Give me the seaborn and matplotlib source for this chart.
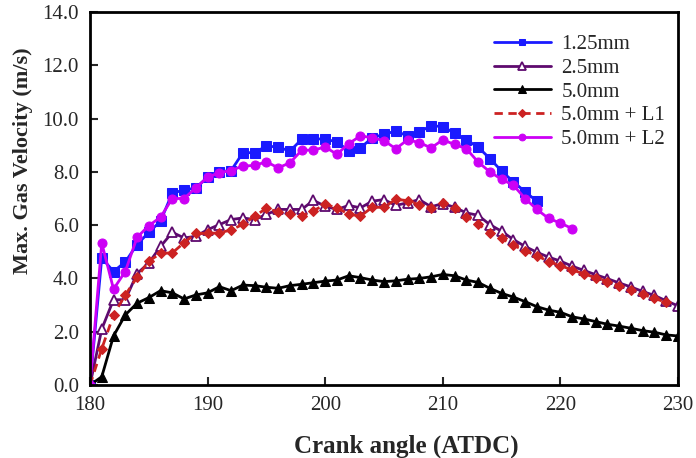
import numpy as np
import pandas as pd
import matplotlib
matplotlib.use("Agg")
import matplotlib.pyplot as plt
import seaborn as sns

# ---- data ----
angle_125 = list(range(180, 219))
v_125 = [0.0, 4.77, 4.26, 4.62, 5.27, 5.73, 6.15, 7.21, 7.31, 7.40, 7.80, 8.00, 8.05,
         8.72, 8.72, 8.97, 8.93, 8.78, 9.22, 9.25, 9.22, 9.13, 8.78, 8.90, 9.28, 9.41,
         9.53, 9.35, 9.50, 9.73, 9.70, 9.45, 9.20, 8.93, 8.50, 8.03, 7.63, 7.25, 6.90]

angle_25 = list(range(180, 231))
v_25 = [0.0, 2.10, 3.20, 3.20, 4.18, 4.58, 5.20, 5.73, 5.52, 5.58, 5.83, 6.02, 6.21,
        6.27, 6.21, 6.40, 6.59, 6.59, 6.59, 6.93, 6.71, 6.59, 6.74, 6.65, 6.90, 6.96,
        6.74, 6.84, 6.96, 6.69, 6.81, 6.67, 6.46, 6.37, 6.02, 5.77, 5.46, 5.20, 4.98,
        4.80, 4.65, 4.46, 4.30, 4.14, 3.99, 3.83, 3.68, 3.51, 3.36, 3.16, 2.97]

angle_50 = list(range(180, 231))
v_50 = [0.0, 0.31, 1.84, 2.63, 3.07, 3.28, 3.54, 3.46, 3.23, 3.38, 3.46, 3.69, 3.54,
        3.75, 3.73, 3.67, 3.63, 3.73, 3.78, 3.84, 3.90, 3.94, 4.10, 4.03, 3.94, 3.88,
        3.91, 3.97, 4.00, 4.06, 4.15, 4.10, 3.94, 3.85, 3.63, 3.44, 3.30, 3.13, 2.94,
        2.81, 2.73, 2.56, 2.48, 2.38, 2.28, 2.21, 2.13, 2.04, 1.98, 1.88, 1.84]

angle_L1 = list(range(180, 230))
v_L1 = [0.0, 1.36, 2.63, 3.38, 4.04, 4.65, 4.94, 4.96, 5.34, 5.69, 5.69, 5.71, 5.82,
        6.03, 6.34, 6.63, 6.50, 6.42, 6.34, 6.54, 6.78, 6.65, 6.41, 6.34, 6.67, 6.67,
        6.97, 6.92, 6.76, 6.65, 6.82, 6.65, 6.32, 6.04, 5.72, 5.50, 5.25, 5.03, 4.86,
        4.63, 4.48, 4.32, 4.17, 4.03, 3.88, 3.72, 3.56, 3.40, 3.25, 3.10]

angle_L2 = list(range(180, 222))
v_L2 = [0.0, 5.33, 3.60, 4.26, 5.54, 5.98, 6.30, 7.00, 7.00, 7.40, 7.80, 7.97, 8.05,
        8.22, 8.24, 8.38, 8.15, 8.34, 8.81, 8.82, 8.93, 8.66, 9.06, 9.35, 9.28, 9.17,
        8.87, 9.20, 9.10, 8.90, 9.20, 9.03, 8.87, 8.37, 8.00, 7.72, 7.50, 7.00, 6.59,
        6.25, 6.08, 5.87]

labels = ["1.25mm", "2.5mm", "5.0mm", "5.0mm + L1", "5.0mm + L2"]
x_ticks = [180, 190, 200, 210, 220, 230]
y_ticks = [0, 2, 4, 6, 8, 10, 12, 14]

# ---- style ----
sns.set_style("ticks")
plt.rcParams['font.family'] = ['Liberation Serif', 'DejaVu Serif']

fig = plt.figure(figsize=(6.96, 4.58), dpi=100)
ax = fig.add_axes([90/696, 1-385/458, (678-90)/696, (385-12)/458])

blue = '#1a1aff'
purple = '#5e0a6e'
red = '#cc2222'
magenta = '#cc00f5'
lw = 2.0

sns.lineplot(x=angle_125, y=v_125, ax=ax, color=blue, lw=lw, marker='s',
             markersize=6.5, markeredgecolor=blue, markerfacecolor=blue,
             label=labels[0])
sns.lineplot(x=angle_25, y=v_25, ax=ax, color=purple, lw=lw, marker='^',
             markersize=7, markeredgecolor=purple, markerfacecolor='white',
             markeredgewidth=1.3, label=labels[1])
sns.lineplot(x=angle_50, y=v_50, ax=ax, color='black', lw=lw, marker='^',
             markersize=7, markeredgecolor='black', markerfacecolor='black',
             label=labels[2])
sns.lineplot(x=angle_L1, y=v_L1, ax=ax, color=red, lw=lw, marker='D',
             markersize=5.5, markeredgecolor=red, markerfacecolor=red,
             linestyle=(0, (3, 2)), label=labels[3])
sns.lineplot(x=angle_L2, y=v_L2, ax=ax, color=magenta, lw=lw, marker='o',
             markersize=6.5, markeredgecolor=magenta, markerfacecolor=magenta,
             label=labels[4])

ax.set_xlim(180, 230)
ax.set_ylim(0, 14)
ax.set_xticks(x_ticks)
ax.set_yticks(y_ticks)
ax.set_xticklabels([str(t) for t in x_ticks], fontsize=15)
ax.set_yticklabels([f"{t:.1f}" for t in y_ticks], fontsize=15)
ax.tick_params(direction='in', length=6, width=1.5, pad=8)
for s in ax.spines.values():
    s.set_linewidth(2.0)
    s.set_color('black')
    s.set_visible(True)

ax.set_xlabel("Crank angle (ATDC)", fontsize=18, fontweight='bold')
ax.set_ylabel("Max. Gas Velocity (m/s)", fontsize=16, fontweight='bold')
ax.xaxis.label.set_va('center')
ax.xaxis.set_label_coords((406-90)/588, (385-446)/373)
ax.yaxis.label.set_va('center')
ax.yaxis.set_label_coords((23-90)/588, (385-161)/373)

leg = ax.legend(loc='upper left', bbox_to_anchor=(479/696, 1-20/458),
                bbox_transform=fig.transFigure, frameon=False, fontsize=15,
                handlelength=2.75, handletextpad=0.5, labelspacing=0.2,
                borderpad=0.2, markerscale=0.75)

fig.savefig("out.png", dpi=100)
